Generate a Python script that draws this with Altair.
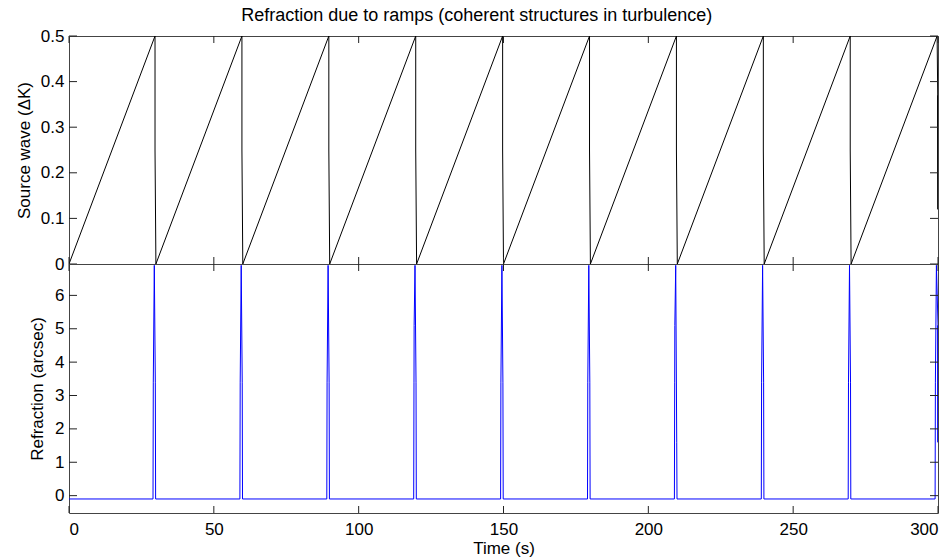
import altair as alt
import pandas as pd

# ---- data ----
src_time = [0.0, 29.7, 29.7, 30.0, 59.7, 59.7, 60.0, 89.7, 89.7, 90.0,
            119.7, 119.7, 120.0, 149.7, 149.7, 150.0, 179.7, 179.7, 180.0,
            209.7, 209.7, 210.0, 239.7, 239.7, 240.0, 269.7, 269.7, 270.0,
            299.7, 299.9, 300.0, 299.95, 300.0]
src_value = [0.0, 0.5, 0.25, 0.0, 0.5, 0.25, 0.0, 0.5, 0.25, 0.0,
             0.5, 0.25, 0.0, 0.5, 0.25, 0.0, 0.5, 0.25, 0.0,
             0.5, 0.25, 0.0, 0.5, 0.25, 0.0, 0.5, 0.25, 0.0,
             0.5, 0.37, 0.12, 0.37, 0.12]

ref_time = [0.0,
            29.0, 29.1, 29.45, 29.8, 29.9,
            59.0, 59.1, 59.45, 59.8, 59.9,
            89.0, 89.1, 89.45, 89.8, 89.9,
            119.0, 119.1, 119.15, 119.45, 119.8, 119.9,
            149.0, 149.1, 149.45, 149.8, 149.9,
            179.0, 179.1, 179.45, 179.8, 179.9,
            209.0, 209.1, 209.15, 209.45, 209.8, 209.9,
            239.0, 239.1, 239.45, 239.8, 239.9,
            269.0, 269.1, 269.45, 269.8, 269.9,
            299.0, 299.1, 299.45, 300.0, 300.0, 299.95, 300.0]
ref_value = [-0.1,
             -0.1, 3.4, 6.9, 3.4, -0.1,
             -0.1, 3.4, 6.9, 3.4, -0.1,
             -0.1, 3.4, 6.9, 3.4, -0.1,
             -0.1, 3.4, 5.1, 6.9, 3.4, -0.1,
             -0.1, 3.4, 6.9, 3.4, -0.1,
             -0.1, 3.4, 6.9, 3.4, -0.1,
             -0.1, 3.4, 5.1, 6.9, 1.6, -0.1,
             -0.1, 3.4, 6.9, 3.4, -0.1,
             -0.1, 3.4, 6.9, 3.4, -0.1,
             -0.1, 3.4, 6.9, 5.1, 1.6, 5.1, 1.6]

x_ticks = [0, 50, 100, 150, 200, 250, 300]
src_ticks = [0, 0.1, 0.2, 0.3, 0.4, 0.5]
ref_ticks = [0, 1, 2, 3, 4, 5, 6]

W = 869
H1 = 228
H2 = 249
FONT = "Liberation Sans"
FS = 17
TICKC = "#222222"

xs = alt.Scale(domain=[0, 300], nice=False, zero=False)


def panel(times, values, color, yticks, ydomain, ytitle, title_x, H, show_x):
    df = pd.DataFrame({"t": times, "v": values, "i": list(range(len(times)))})
    ys = alt.Scale(domain=ydomain, nice=False, zero=False)
    if show_x:
        xaxis = alt.Axis(values=x_ticks, title="Time (s)", labelPadding=8,
                         titlePadding=3, format="d")
    else:
        xaxis = alt.Axis(values=x_ticks, labels=False, title=None)
    yaxis = alt.Axis(values=yticks, title=ytitle, titleX=title_x, format="~g",
                     titleBaseline="middle", labelPadding=5)
    line = alt.Chart(df).mark_line(color=color, strokeWidth=1, clip=True).encode(
        x=alt.X("t:Q", scale=xs, axis=xaxis),
        y=alt.Y("v:Q", scale=ys, axis=yaxis),
        order="i:Q",
    )
    xt = pd.DataFrame({"t": x_ticks})
    yt = pd.DataFrame({"v": yticks})
    bottom_t = alt.Chart(xt).mark_rule(color=TICKC, strokeWidth=1).encode(
        x=alt.X("t:Q", scale=xs, axis=xaxis), y=alt.value(H), y2=alt.value(H - 7))
    top_t = alt.Chart(xt).mark_rule(color=TICKC, strokeWidth=1).encode(
        x=alt.X("t:Q", scale=xs, axis=xaxis), y=alt.value(0), y2=alt.value(7))
    left_t = alt.Chart(yt).mark_rule(color=TICKC, strokeWidth=1).encode(
        y=alt.Y("v:Q", scale=ys, axis=yaxis), x=alt.value(0), x2=alt.value(8))
    right_t = alt.Chart(yt).mark_rule(color=TICKC, strokeWidth=1).encode(
        y=alt.Y("v:Q", scale=ys, axis=yaxis), x=alt.value(W), x2=alt.value(W - 8))
    return alt.layer(line, bottom_t, top_t, left_t, right_t).properties(width=W, height=H)


top = panel(src_time, src_value, "#000000", src_ticks, [0, 0.5],
            "Source wave (\u0394K)", -45, H1, False)
bottom = panel(ref_time, ref_value, "#0000ff", ref_ticks, [-0.52, 6.94],
               "Refraction (arcsec)", -32, H2, True)

chart = alt.vconcat(top, bottom, spacing=0, bounds="flush").properties(
    title=alt.Title("Refraction due to ramps (coherent structures in turbulence)",
                    font=FONT, fontSize=18, fontWeight="normal", color="#000000",
                    anchor="middle", offset=2),
    padding={"left": 14, "top": 6, "right": 10, "bottom": 5},
).configure_view(stroke="#444444", strokeWidth=1).configure_axis(
    labelFont=FONT, titleFont=FONT, labelFontSize=FS, titleFontSize=FS,
    labelColor="#000000", titleColor="#000000", titleFontWeight="normal",
    ticks=False, domain=False, grid=False,
)

chart.save("out.html", embed_options={"renderer": "svg", "actions": False})
